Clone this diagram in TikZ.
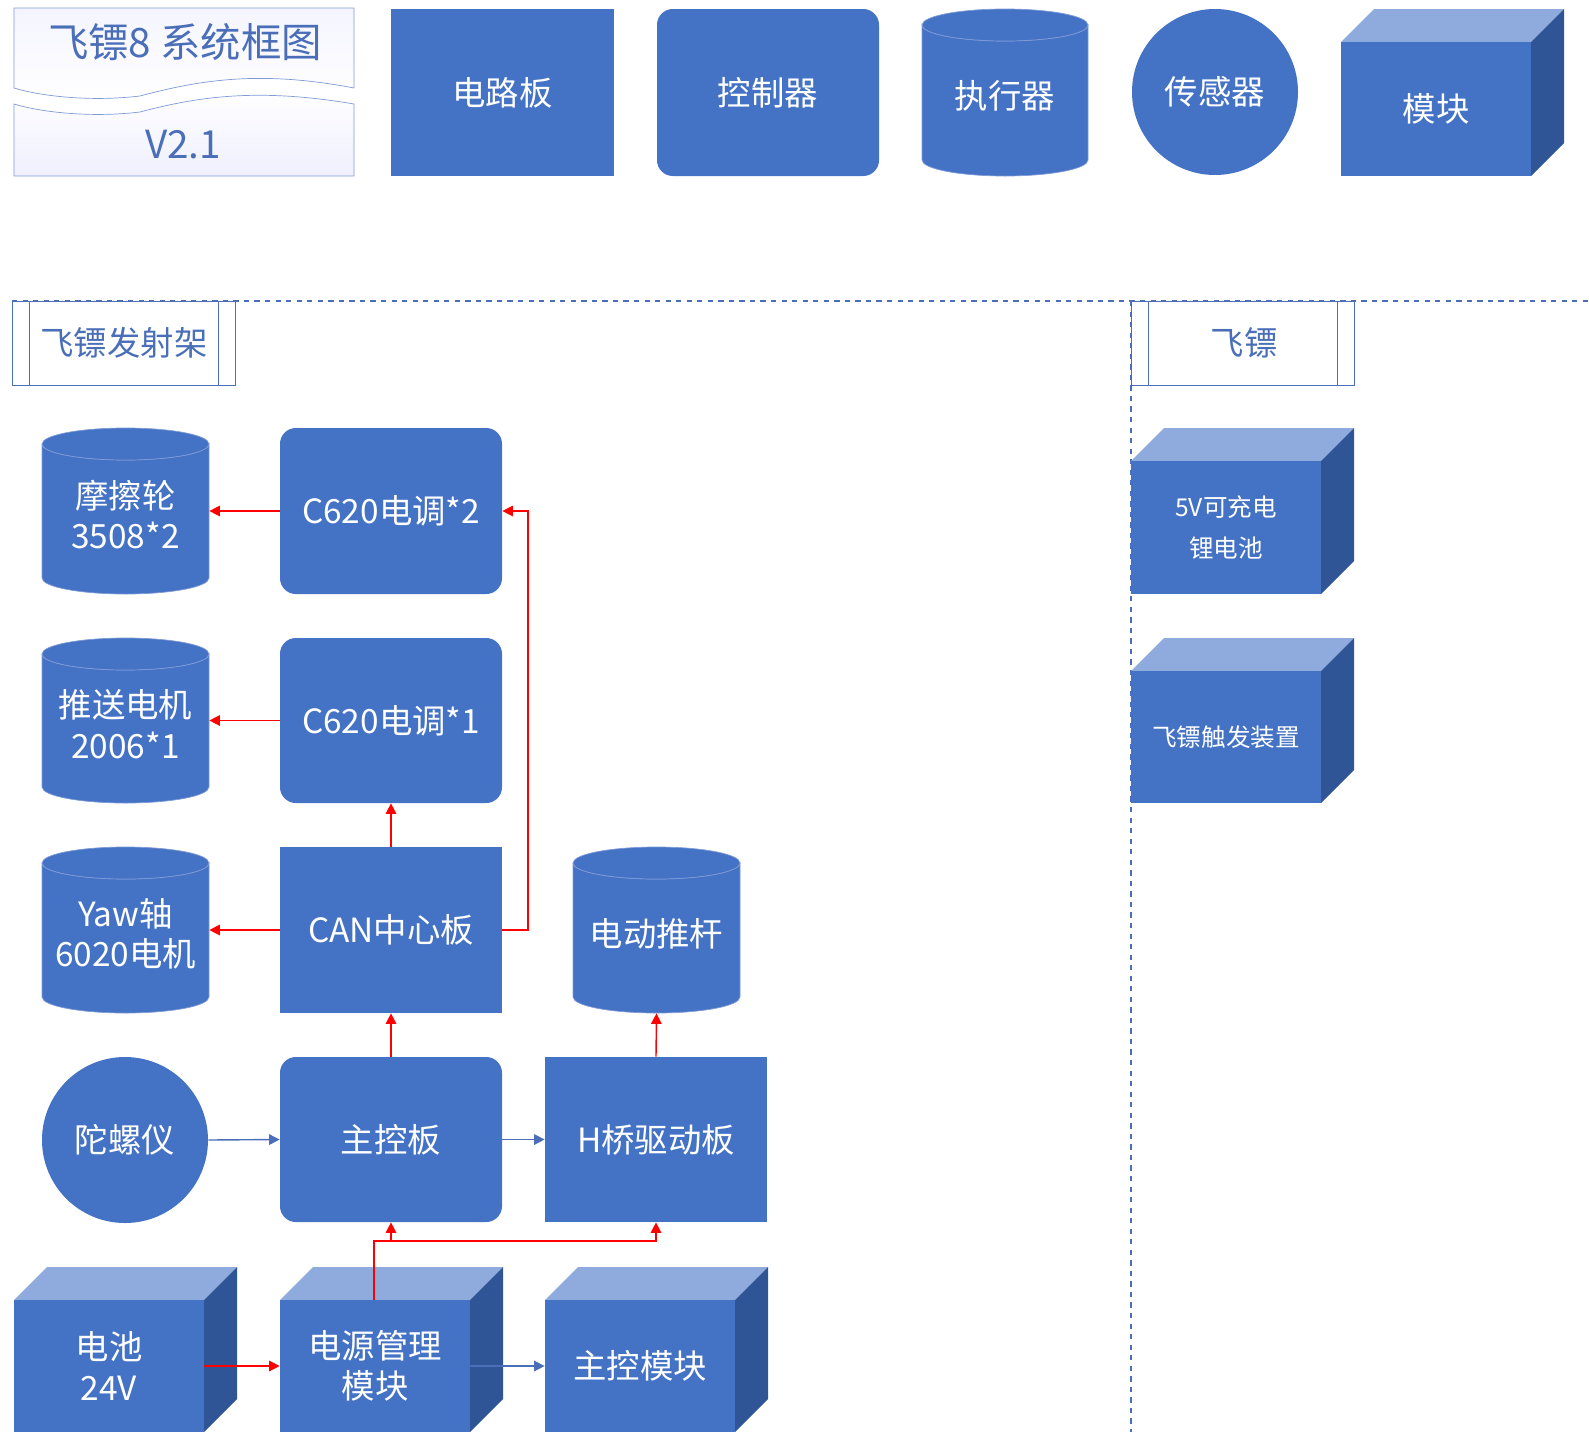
\documentclass[tikz,border=0pt]{standalone}
\usepackage{fontspec}
\setmainfont{Noto Sans CJK SC}
\usetikzlibrary{fit,arrows.meta}
\definecolor{bfill}{HTML}{4472C4}
\definecolor{btop}{HTML}{8FAADC}
\definecolor{bside}{HTML}{2F5597}
\definecolor{bedge}{HTML}{7F9BD6}
\definecolor{tline}{HTML}{4A6FB8}
\tikzset{
 base/.style={inner sep=0pt,text=white,font=\fontsize{19}{23}\selectfont,align=center},
 rbox/.style={base,fill=bfill},
 rrbox/.style={base,fill=bfill,rounded corners=9pt},
 inv/.style={base},
 red arrow/.style={draw=red,thick,-{Triangle[length=6pt,width=6pt]}},
 blue arrow/.style={draw=tline,thick,-{Triangle[length=6pt,width=6pt]}},
 lab/.style={draw=tline,thin,inner sep=0pt},
}
\newcommand\cyl[6]{% name x1 y1 x2 y2 text
 \pgfmathsetmacro\cxr{(#4-#2)/2}\pgfmathsetmacro\cxc{(#4+#2)/2}
 \pgfmathsetmacro\cyt{#3+16}\pgfmathsetmacro\cyb{#5-16}
 \fill[bfill,draw=bedge] (#2,\cyt) -- (#2,\cyb) arc[start angle=180,end angle=0,x radius=\cxr,y radius=16] -- (#4,\cyt) arc[start angle=0,end angle=180,x radius=\cxr,y radius=16] -- cycle;
 \filldraw[fill=bfill,draw=bedge] (\cxc,\cyt) ellipse[x radius=\cxr,y radius=16];
 \node[inv,fit={(#2,#3)(#4,#5)}] (#1) {}; \node[base] at ([yshift=-2pt]#1.center) {#6};}
\newcommand\cube[6]{% name x1 y1 x2 y2 (front face) text
 \fill[btop] (#2,#3) -- ++(33,-33) -- (#4+33,#3-33) -- (#4,#3) -- cycle;
 \fill[bside] (#4,#3) -- (#4+33,#3-33) -- (#4+33,#5-33) -- (#4,#5) -- cycle;
 \node[rbox,fit={(#2,#3)(#4,#5)}] (#1) {}; \node[base] at (#1.center) {#6};}
\begin{document}
\begin{tikzpicture}[x=0.02cm,y=-0.02cm]
\useasboundingbox (0,0) rectangle (1589,1454);
% title
\shade[top color=blue!4,bottom color=white,draw=bedge] (14,8) -- (354,8) -- (354,88) .. controls (260,70) and (200,80) .. (140,96) .. controls (90,102) and (40,96) .. (14,88) -- cycle;
\shade[top color=white,bottom color=blue!6,draw=bedge] (14,104) .. controls (40,112) and (90,118) .. (140,112) .. controls (200,96) and (260,88) .. (354,104) -- (354,176) -- (14,176) -- cycle;
\node[text=tline,font=\fontsize{23}{26}\selectfont] (title) at (185,42) {飞镖8 系统框图};
\node[text=tline,font=\fontsize{22}{26}\selectfont] (ver) at (183,145) {V2.1};
% legend
\node[rbox,fit={(391,9)(614,176)}] (l1) {}; \node[base] at (l1) {电路板};
\node[rrbox,fit={(657,9)(879,176)}] (l2) {}; \node[base] at (l2) {控制器};
\cyl{l3}{922}{9}{1088}{176}{执行器}
\node[base,fill=bfill,circle,minimum size=166*0.02cm] (l4) at (1215,92) {传感器};
\cube{l5}{1341}{42}{1531}{176}{模块}
% swimlanes
\draw[tline,dashed,semithick] (12,301) -- (1589,301);
\draw[tline,dashed,semithick] (1131,301) -- (1131,1432);
\node[lab,fit={(12,301)(235,385)}] (s1) {}; \draw[tline] (29,301) -- (29,385) (218,301) -- (218,385);
\node[text=tline,font=\fontsize{19}{23}\selectfont] at (124,343) {飞镖发射架};
\node[lab,fit={(1131,301)(1354,385)}] (s2) {}; \draw[tline] (1148,301) -- (1148,385) (1337,301) -- (1337,385);
\node[text=tline,font=\fontsize{19}{23}\selectfont] at (1244,343) {飞镖};
% left lane
\cyl{mc}{42}{428}{209}{594}{摩擦轮\\3508*2}
\cyl{ts}{42}{638}{209}{803}{推送电机\\2006*1}
\cyl{yaw}{42}{847}{209}{1013}{Yaw轴\\6020电机}
\cyl{tg}{573}{847}{740}{1013}{电动推杆}
\node[rrbox,fit={(280,428)(502,594)}] (c2) {}; \node[base] at (c2) {C620电调*2};
\node[rrbox,fit={(280,638)(502,803)}] (c1) {}; \node[base] at (c1) {C620电调*1};
\node[rrbox,fit={(280,1057)(502,1222)}] (zk) {}; \node[base] at (zk) {主控板};
\node[rbox,fit={(280,847)(502,1013)}] (can) {}; \node[base] at (can) {CAN中心板};
\node[rbox,fit={(545,1057)(767,1222)}] (hq) {}; \node[base] at (hq) {H桥驱动板};
\node[base,fill=bfill,circle,minimum size=166*0.02cm] (tly) at (125,1140) {陀螺仪};
\cube{dc}{14}{1300}{204}{1432}{电池\\24V}
\cube{dy}{280}{1300}{470}{1432}{电源管理\\模块}
\cube{zm}{545}{1300}{735}{1432}{主控模块}
\cube{bat}{1131}{461}{1321}{594}{\fontsize{14}{20}\selectfont 5V可充电\\\fontsize{14}{20}\selectfont 锂电池}
\cube{cf}{1131}{671}{1321}{803}{\fontsize{14}{20}\selectfont 飞镖触发装置}
% connectors
\draw[red arrow] (c2.west) -- (mc.east);
\draw[red arrow] (c1.west) -- (ts.east);
\draw[red arrow] (can.west) -- (yaw.east);
\draw[red arrow] (can.north) -- (c1.south);
\draw[red arrow] (can.east) -- (528,930) |- (c2.east);
\draw[red arrow] (zk.north) -- (can.south);
\draw[red arrow] (hq.north) -- (tg.south);
\draw[blue arrow] (tly.east) -- (zk.west);
\draw[blue arrow] (zk.east) -- (hq.west);
\draw[red arrow] (dc.east) -- (dy.west);
\draw[blue arrow] (dy.east) -- (zm.west);
\coordinate (j1) at (374,1241);
\draw[red arrow] (374,1300) -- (j1) -| (zk.south);
\draw[red arrow] (j1) -| (hq.south);
\end{tikzpicture}
\end{document}
